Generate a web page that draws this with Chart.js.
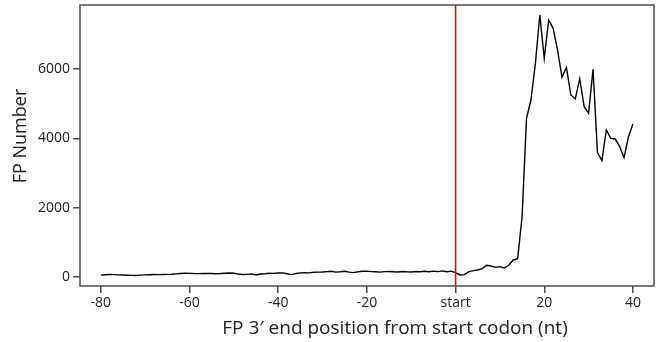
<!DOCTYPE html>
<html>
<head>
<meta charset="utf-8">
<script src="https://cdn.jsdelivr.net/npm/chart.js@4/dist/chart.umd.min.js"></script>
<style>
    html, body { margin: 0; padding: 0; background: #fff; }
    #wrap { width: 659px; height: 342px; position: relative; }
</style>
</head>
<body>
<div id="wrap"><canvas id="fp-profile"></canvas></div>
<script>
// footprint 3' end position relative to the start codon (nt)
const positions = [
    -80, -79, -78, -77, -76, -75, -74, -73, -72, -71,
    -70, -69, -68, -67, -66, -65, -64, -63, -62, -61,
    -60, -59, -58, -57, -56, -55, -54, -53, -52, -51,
    -50, -49, -48, -47, -46, -45, -44, -43, -42, -41,
    -40, -39, -38, -37, -36, -35, -34, -33, -32, -31,
    -30, -29, -28, -27, -26, -25, -24, -23, -22, -21,
    -20, -19, -18, -17, -16, -15, -14, -13, -12, -11,
    -10, -9, -8, -7, -6, -5, -4, -3, -2, -1,
    0, 1, 2, 3, 4, 5, 6, 7, 8, 9,
    10, 11, 12, 13, 14, 15, 16, 17, 18, 19,
    20, 21, 22, 23, 24, 25, 26, 27, 28, 29,
    30, 31, 32, 33, 34, 35, 36, 37, 38, 39,
    40
];

// FP number at each position
const fpNumber = [
    55, 65, 70, 68, 62, 58, 52, 48, 45, 55,
    62, 65, 70, 68, 72, 75, 80, 90, 100, 108,
    105, 100, 98, 102, 105, 100, 95, 100, 110, 115,
    108, 85, 70, 75, 90, 60, 85, 95, 110, 105,
    115, 120, 95, 70, 100, 120, 125, 120, 135, 140,
    145, 155, 165, 140, 150, 165, 140, 125, 150, 165,
    170, 155, 150, 140, 155, 160, 150, 145, 160, 150,
    145, 160, 150, 165, 150, 170, 155, 175, 150, 170,
    125, 58, 67, 154, 183, 202, 240, 337, 317, 279,
    298, 260, 337, 491, 529, 1741, 4579, 5108, 6166, 7561,
    6311, 7417, 7177, 6551, 5762, 6051, 5252, 5137, 5724, 4916,
    4723, 5993, 3588, 3357, 4242, 4002, 3983, 3761, 3444, 4050,
    4416
];

const xTicks = [-80, -60, -40, -20, 0, 20, 40];
const yTicks = [0, 2000, 4000, 6000];
const startMarker = 0;

const xTitle = 'FP 3\u2032 end position from start codon (nt)';
const yTitle = 'FP Number';

const xRange = {min: -84.7, max: 44.75};
const yRange = {min: -260, max: 7850};

const profile = positions.map((p, i) => ({x: p, y: fpNumber[i]}));
const marker = [{x: startMarker, y: yRange.min}, {x: startMarker, y: yRange.max}];

const font = "'Open Sans', 'DejaVu Sans', sans-serif";

// box round the plot area, and the two axis titles
const frame = {
    id: 'frame',
    afterDatasetsDraw(chart) {
        const a = chart.chartArea;
        const ctx = chart.ctx;
        ctx.save();
        ctx.strokeStyle = '#4d4d4d';
        ctx.lineWidth = 1.5;
        ctx.strokeRect(a.left, a.top, a.right - a.left, a.bottom - a.top);

        ctx.fillStyle = '#222';
        ctx.font = '19px ' + font;
        ctx.textAlign = 'center';
        ctx.textBaseline = 'middle';
        ctx.fillText(xTitle, 395, 329);

        ctx.translate(21, 136);
        ctx.rotate(-Math.PI / 2);
        ctx.font = '18px ' + font;
        ctx.fillText(yTitle, 0, 0);
        ctx.restore();
    }
};

new Chart(document.getElementById('fp-profile').getContext('2d'), {
    type: 'line',
    data: {
        datasets: [
            {data: marker, borderColor: '#ff0000', borderWidth: 1.6, pointRadius: 0, fill: false},
            {data: profile, borderColor: '#000', borderWidth: 1.4, pointRadius: 0, fill: false, tension: 0},
        ]
    },
    options: {
        responsive: true,
        maintainAspectRatio: false,
        animation: false,
        layout: {padding: {left: 0, top: 5, right: 5, bottom: 0}},
        plugins: {legend: {display: false}, tooltip: {enabled: false}},
        scales: {
            x: {
                type: 'linear',
                min: xRange.min,
                max: xRange.max,
                afterBuildTicks: s => { s.ticks = xTicks.map(v => ({value: v})); },
                afterFit: s => { s.height = 56; },
                ticks: {
                    callback: v => v === 0 ? 'start' : String(v),
                    color: '#222',
                    font: {family: font, size: 14},
                    padding: 2,
                    maxRotation: 0,
                    autoSkip: false
                },
                grid: {drawOnChartArea: false, tickLength: 7, color: '#4d4d4d', lineWidth: 1.5},
                border: {display: false}
            },
            y: {
                min: yRange.min,
                max: yRange.max,
                afterBuildTicks: s => { s.ticks = yTicks.map(v => ({value: v})); },
                afterFit: s => { s.width = 80; s.paddingTop = 0; s.paddingBottom = 0; },
                ticks: {
                    callback: v => String(v),
                    color: '#222',
                    font: {family: font, size: 14},
                    padding: 3
                },
                grid: {drawOnChartArea: false, tickLength: 7, color: '#4d4d4d', lineWidth: 1.5},
                border: {display: false}
            }
        }
    },
    plugins: [frame]
});
</script>
</body>
</html>
